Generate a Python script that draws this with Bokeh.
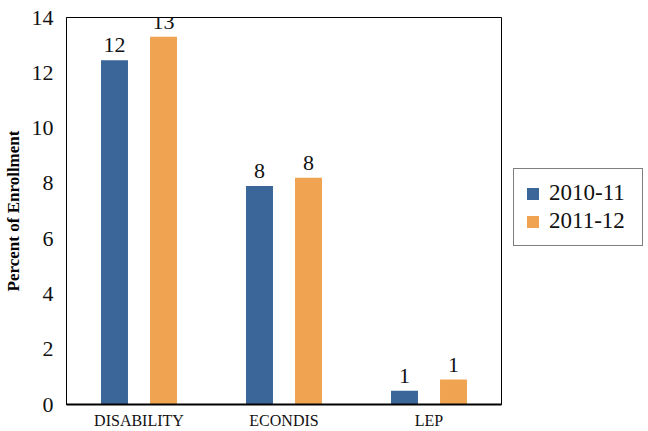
from bokeh.plotting import figure
from bokeh.layouts import row
from bokeh.models import FactorRange, ColumnDataSource, LabelSet, Legend, LegendItem
from bokeh.transform import dodge
from bokeh.embed import file_html
from bokeh.resources import INLINE

categories = ["DISABILITY", "ECONDIS", "LEP"]
series_names = ["2010-11", "2011-12"]
values_2010 = [12.45, 7.9, 0.5]
values_2011 = [13.3, 8.2, 0.9]
labels_2010 = ["12", "8", "1"]
labels_2011 = ["13", "8", "1"]
y_ticks = [0, 2, 4, 6, 8, 10, 12, 14]

FONT = "Liberation Serif"
BLUE = "#3A6699"
ORANGE = "#F0A452"

src = ColumnDataSource(dict(cat=categories, v1=values_2010, v2=values_2011,
                            l1=labels_2010, l2=labels_2011))

H = 431
p = figure(width=502, height=H, x_range=FactorRange(*categories),
           y_range=(0, 14), output_backend="svg", toolbar_location=None,
           min_border_left=58, min_border_right=1, min_border_top=17, min_border_bottom=26)
p.x_range.range_padding = 0
p.x_range.factor_padding = 0

off = 0.169
w = 0.186
r1 = p.vbar(x=dodge("cat", -off, range=p.x_range), top="v1", width=w, source=src,
            fill_color=BLUE, line_color=None)
r2 = p.vbar(x=dodge("cat", off, range=p.x_range), top="v2", width=w, source=src,
            fill_color=ORANGE, line_color=None)

for col, vcol, o in (("l1", "v1", -off), ("l2", "v2", off)):
    ls = LabelSet(x=dodge("cat", o, range=p.x_range), y=vcol, text=col, source=src,
                  text_align="center", text_baseline="alphabetic", y_offset=8,
                  text_font=FONT, text_font_size="22px", text_color="#111111")
    p.add_layout(ls)

p.grid.visible = False
p.outline_line_color = "black"
p.outline_line_width = 1

p.yaxis.ticker = y_ticks
p.yaxis.major_label_text_font = FONT
p.yaxis.major_label_text_font_size = "22px"
p.yaxis.major_label_text_color = "#111111"
p.yaxis.major_tick_line_color = None
p.yaxis.minor_tick_line_color = None
p.yaxis.major_label_standoff = 7
p.yaxis.axis_line_color = "black"
p.yaxis.axis_label = "Percent of Enrollment"
p.yaxis.axis_label_text_font = FONT
p.yaxis.axis_label_text_font_style = "bold"
p.yaxis.axis_label_text_font_size = "17px"
p.yaxis.axis_label_text_color = "black"
p.yaxis.axis_label_standoff = 6

p.xaxis.major_label_text_font = FONT
p.xaxis.major_label_text_font_size = "16px"
p.xaxis.major_label_text_color = "#111111"
p.xaxis.major_tick_line_color = None
p.xaxis.minor_tick_line_color = None
p.xaxis.axis_line_color = "black"
p.xaxis.axis_line_width = 2
p.xaxis.major_label_standoff = 1

# legend panel: a second figure without axes; its key renderers are hidden,
# only their legend entries are drawn
leg = figure(width=146, height=H, x_range=FactorRange(*categories), y_range=(100, 101),
             output_backend="svg", toolbar_location=None,
             x_axis_location=None, y_axis_location=None,
             min_border_left=0, min_border_right=0, min_border_top=0, min_border_bottom=0)
leg.grid.visible = False
leg.outline_line_color = None
k1 = leg.vbar(x="cat", top="v1", width=w, source=src, fill_color=BLUE, line_color=None)
k2 = leg.vbar(x="cat", top="v2", width=w, source=src, fill_color=ORANGE, line_color=None)
k1.visible = False
k2.visible = False

legend = Legend(items=[LegendItem(label=series_names[0], renderers=[k1]),
                       LegendItem(label=series_names[1], renderers=[k2])],
                location=(11, 158), orientation="vertical")
legend.label_text_font = FONT
legend.label_text_font_size = "23px"
legend.label_text_color = "#111111"
legend.glyph_width = 15
legend.glyph_height = 15
legend.label_height = 22
legend.label_width = 82
legend.label_standoff = 9
legend.spacing = 2
legend.padding = 11
legend.margin = 0
legend.border_line_color = "black"
legend.border_line_width = 1
legend.background_fill_alpha = 1
leg.add_layout(legend)

layout = row(p, leg)
open("out.html", "w").write(file_html(layout, INLINE))
